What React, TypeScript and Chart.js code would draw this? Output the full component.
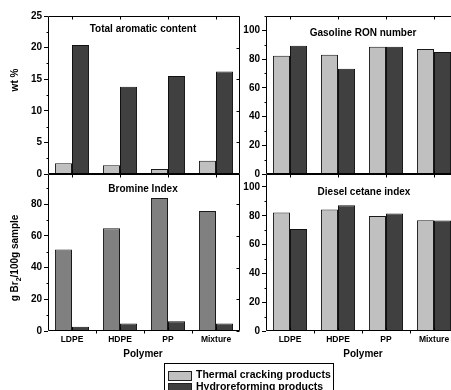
import React, { useEffect, useRef } from "react";
import { Chart, registerables } from "chart.js";

Chart.register(...registerables);

const categories = ["LDPE", "HDPE", "PP", "Mixture"];
const seriesLabels = ["Thermal cracking products", "Hydroreforming products"];

const aromaticThermal = [1.7, 1.4, 0.8, 2.1];
const aromaticHydro = [20.4, 13.8, 15.5, 16.2];
const ronThermal = [82.4, 83.1, 88.6, 87.0];
const ronHydro = [89.3, 73.3, 88.6, 84.9];
const bromineThermal = [51.4, 64.8, 83.8, 75.6];
const bromineHydro = [2.7, 4.8, 6.1, 4.8];
const cetaneThermal = [82.2, 84.3, 79.9, 76.9];
const cetaneHydro = [70.9, 87.3, 81.5, 76.7];

const aromaticTicks = [0, 5, 10, 15, 20, 25];
const ronTicks = [0, 20, 40, 60, 80, 100];
const bromineTicks = [0, 20, 40, 60, 80];
const cetaneTicks = [0, 20, 40, 60, 80, 100];

const FONT = '"Liberation Sans", Arial, Helvetica, sans-serif';
const LIGHT = "#c0c0c0";
const DARK = "#404040";
const MID = "#808080";

const framePlugin = {
  id: "frame",
  afterDraw(chart: any, _args: any, opts: any) {
    const { ctx, chartArea: a } = chart;
    const L = Math.round(a.left) + 0.5;
    const R = Math.round(a.right) - 0.5;
    const T = Math.round(a.top) + 0.5;
    const B = Math.round(a.bottom) - 0.5;
    ctx.save();
    ctx.strokeStyle = "#000";
    ctx.lineWidth = 1;
    ctx.beginPath();
    ctx.moveTo(L, T);
    ctx.lineTo(R, T);
    ctx.lineTo(R, B);
    ctx.lineTo(L, B);
    ctx.closePath();
    ctx.stroke();
    const xs = chart.scales.x;
    const ys = chart.scales.y;
    ctx.beginPath();
    const n = chart.data.labels.length;
    for (let i = 0; i < n; i++) {
      const x = Math.round(xs.getPixelForValue(i)) + 0.5;
      ctx.moveTo(x, T);
      ctx.lineTo(x, T + 3);
      ctx.moveTo(x, B);
      ctx.lineTo(x, B - 3);
      if (opts.boundaries && i < n - 1) {
        const xb = Math.round((xs.getPixelForValue(i) + xs.getPixelForValue(i + 1)) / 2) + 0.5;
        ctx.moveTo(xb, B);
        ctx.lineTo(xb, B + 3);
      }
    }
    const minor = opts.minorStep;
    const major = opts.majorStep;
    for (let v = 0; v <= ys.max + 1e-6; v += minor) {
      const y = Math.round(ys.getPixelForValue(v)) + 0.5;
      const isMajor = Math.abs(v / major - Math.round(v / major)) < 1e-6;
      if (!isMajor) {
        ctx.moveTo(L, y);
        ctx.lineTo(L - 2, y);
      } else {
        ctx.moveTo(R, y);
        ctx.lineTo(R - 3, y);
      }
    }
    ctx.stroke();
    ctx.restore();
  },
};

type PanelProps = {
  thermal: number[];
  hydro: number[];
  thermalColor: string;
  ticks: number[];
  yMax: number;
  minorStep: number;
  left: number;
  top: number;
  width: number;
  height: number;
  yWidth: number;
  padding: { top: number; bottom: number; right: number };
  showX: boolean;
};

function Panel(p: PanelProps) {
  const ref = useRef<HTMLCanvasElement | null>(null);
  useEffect(() => {
    if (!ref.current) return;
    const majorStep = p.ticks[1] - p.ticks[0];
    const xScale: any = {
      display: p.showX,
      grid: { display: false, drawTicks: false, tickLength: 0 },
      border: { display: false },
      ticks: {
        color: "#000",
        font: { family: FONT, size: 8.5, weight: "bold" },
        padding: 4,
        maxRotation: 0,
        autoSkip: false,
      },
    };
    if (p.showX) {
      xScale.afterFit = (s: any) => {
        s.height = 19;
      };
    }
    const chart = new Chart(ref.current, {
      type: "bar",
      data: {
        labels: categories,
        datasets: [
          {
            label: seriesLabels[0],
            data: p.thermal,
            backgroundColor: p.thermalColor,
            borderColor: "#1a1a1a",
            borderWidth: 1,
            barPercentage: 1,
            categoryPercentage: 0.71,
          },
          {
            label: seriesLabels[1],
            data: p.hydro,
            backgroundColor: DARK,
            borderColor: "#111",
            borderWidth: 1,
            barPercentage: 1,
            categoryPercentage: 0.71,
          },
        ],
      },
      options: {
        animation: false,
        responsive: false,
        layout: { padding: { left: 0, top: p.padding.top, bottom: p.padding.bottom, right: p.padding.right } },
        plugins: {
          legend: { display: false },
          tooltip: { enabled: false },
          frame: { minorStep: p.minorStep, majorStep, boundaries: p.showX },
        } as any,
        scales: {
          x: xScale,
          y: {
            min: 0,
            max: p.yMax,
            afterBuildTicks: (axis: any) => {
              axis.ticks = p.ticks.map((v) => ({ value: v }));
            },
            grid: {
              display: true,
              drawOnChartArea: false,
              drawTicks: true,
              tickLength: 4,
              color: "#000",
            },
            border: { display: false },
            ticks: {
              color: "#000",
              padding: 2,
              font: { family: FONT, size: 10, weight: "bold" },
            },
            afterFit: (s: any) => {
              s.width = p.yWidth;
            },
          },
        },
      },
      plugins: [framePlugin],
    } as any);
    return () => chart.destroy();
  }, []);
  return (
    <canvas
      ref={ref}
      width={p.width}
      height={p.height}
      style={{ position: "absolute", left: p.left, top: p.top, width: p.width, height: p.height }}
    />
  );
}

function Label(props: { x: number; y: number; text: React.ReactNode; size: number; w?: number }) {
  const w = props.w ?? 200;
  return (
    <div
      style={{
        position: "absolute",
        left: props.x - w / 2,
        top: props.y - props.size * 0.6,
        width: w,
        textAlign: "center",
        fontFamily: FONT,
        fontWeight: "bold",
        fontSize: props.size,
        lineHeight: `${props.size * 1.2}px`,
        color: "#000",
        whiteSpace: "nowrap",
      }}
    >
      {props.text}
    </div>
  );
}

function VLabel(props: { x: number; y: number; text: React.ReactNode; size: number }) {
  const w = 160;
  return (
    <div
      style={{
        position: "absolute",
        left: props.x - w / 2,
        top: props.y - props.size * 0.6,
        width: w,
        textAlign: "center",
        fontFamily: FONT,
        fontWeight: "bold",
        fontSize: props.size,
        lineHeight: `${props.size * 1.2}px`,
        color: "#000",
        whiteSpace: "nowrap",
        transform: "rotate(-90deg)",
        transformOrigin: "50% 50%",
      }}
    >
      {props.text}
    </div>
  );
}

export default function App() {
  return (
    <div
      style={{
        position: "fixed",
        left: 0,
        top: 0,
        width: 451,
        height: 390,
        overflow: "hidden",
        background: "#fff",
      }}
    >
      <Panel
        thermal={aromaticThermal}
        hydro={aromaticHydro}
        thermalColor={LIGHT}
        ticks={aromaticTicks}
        yMax={25}
        minorStep={2.5}
        left={0}
        top={0}
        width={250}
        height={185}
        yWidth={48}
        padding={{ top: 16, bottom: 11, right: 10 }}
        showX={false}
      />
      <Panel
        thermal={bromineThermal}
        hydro={bromineHydro}
        thermalColor={MID}
        ticks={bromineTicks}
        yMax={99}
        minorStep={10}
        left={0}
        top={165}
        width={250}
        height={185}
        yWidth={48}
        padding={{ top: 9, bottom: 0, right: 10 }}
        showX={true}
      />
      <Panel
        thermal={ronThermal}
        hydro={ronHydro}
        thermalColor={LIGHT}
        ticks={ronTicks}
        yMax={110}
        minorStep={10}
        left={240}
        top={0}
        width={222}
        height={185}
        yWidth={26}
        padding={{ top: 16, bottom: 11, right: 4 }}
        showX={false}
      />
      <Panel
        thermal={cetaneThermal}
        hydro={cetaneHydro}
        thermalColor={LIGHT}
        ticks={cetaneTicks}
        yMax={109}
        minorStep={10}
        left={240}
        top={165}
        width={222}
        height={185}
        yWidth={26}
        padding={{ top: 9, bottom: 0, right: 4 }}
        showX={true}
      />

      <Label x={143} y={29} text="Total aromatic content" size={10} />
      <Label x={363} y={33} text="Gasoline RON number" size={10} />
      <Label x={143} y={189} text="Bromine Index" size={10} />
      <Label x={364} y={192} text="Diesel cetane index" size={10} />
      <Label x={143} y={354} text="Polymer" size={10} />
      <Label x={363} y={354} text="Polymer" size={10} />

      <VLabel x={15} y={80} text="wt %" size={10} />
      <VLabel
        x={15}
        y={258}
        size={10}
        text={
          <span>
            g Br<sub style={{ fontSize: 7, verticalAlign: "sub", lineHeight: 0 }}>2</sub>/100g sample
          </span>
        }
      />

      <div
        style={{
          position: "absolute",
          left: 164,
          top: 363,
          width: 170,
          height: 40,
          border: "1px solid #000",
          boxSizing: "border-box",
          background: "#fff",
          fontFamily: FONT,
          fontWeight: "bold",
          fontSize: 10.5,
          color: "#000",
        }}
      >
        {[LIGHT, DARK].map((c, i) => (
          <div key={i} style={{ position: "absolute", left: 3, top: 6 + i * 12, height: 11, whiteSpace: "nowrap" }}>
            <span
              style={{
                position: "absolute",
                left: 0,
                top: 1,
                width: 22,
                height: 8,
                background: c,
                border: "1px solid #222",
              }}
            />
            <span style={{ position: "absolute", left: 28, top: -2, lineHeight: "13px" }}>{seriesLabels[i]}</span>
          </div>
        ))}
      </div>
    </div>
  );
}
